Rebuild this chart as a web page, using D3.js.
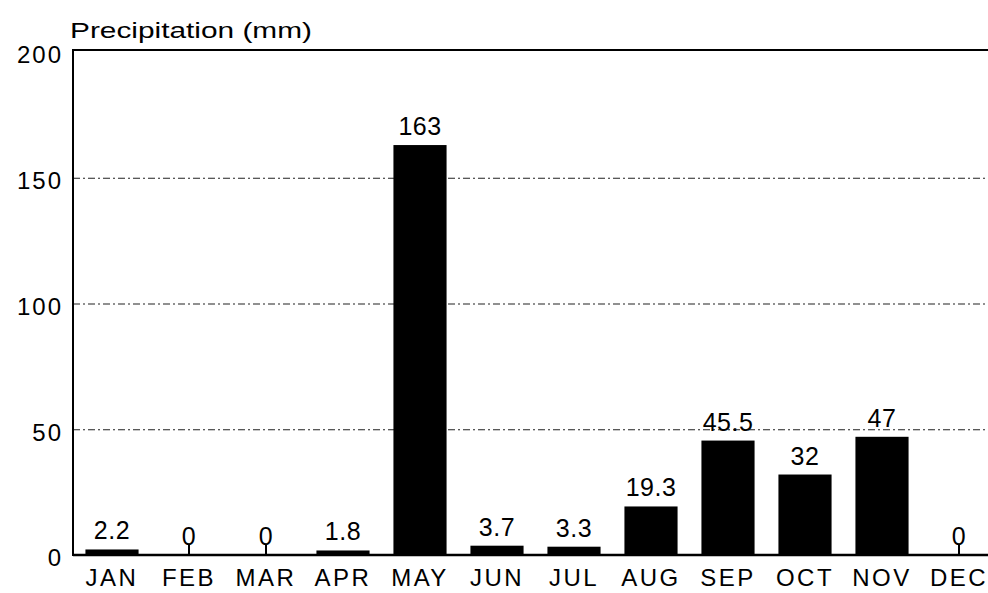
<!DOCTYPE html>
<html>
<head>
<meta charset="utf-8">
<script src="https://cdn.jsdelivr.net/npm/d3@7"></script>
<style>
  html, body { margin: 0; padding: 0; background: #fff; }
  svg { display: block; }
  text { font-family: "Liberation Sans", Arial, sans-serif; fill: #000; }
</style>
</head>
<body>
<svg id="chart" width="988" height="593"></svg>
<script>
const months = ["JAN","FEB","MAR","APR","MAY","JUN","JUL","AUG","SEP","OCT","NOV","DEC"];
const precipitation = [2.2, 0, 0, 1.8, 163, 3.7, 3.3, 19.3, 45.5, 32, 47, 0];
const valueLabels = ["2.2","0","0","1.8","163","3.7","3.3","19.3","45.5","32","47","0"];
const yTicks = [0, 50, 100, 150, 200];
const yTitle = "Precipitation (mm)";

(function () {
const svg = d3.select("#chart");
const mLeft = 73, mRight = 988, mTop = 50, mBottom = 555;

const x = d3.scaleBand().domain(months).range([73.5, 997.5]).paddingInner(0.31).paddingOuter(0.155);
const y = d3.scaleLinear().domain([0, 200]).range([mBottom, 52]);

// y labels
const yAxis = d3.axisLeft(y).tickValues(yTicks).tickSize(0).tickPadding(10).tickFormat(d3.format("d"));
const gy = svg.append("g").attr("transform", `translate(${mLeft},0)`).call(yAxis);
gy.select(".domain").remove();
gy.selectAll("text").attr("font-size", 24).attr("dy", "0.45em").attr("letter-spacing", "2px")
  .style("font-family", "'Liberation Sans', Arial, sans-serif");

// gridlines
const grid = d3.axisLeft(y).tickValues([50, 100, 150]).tickSize(-(mRight - mLeft)).tickFormat("");
const gg = svg.append("g").attr("transform", `translate(${mLeft},0)`).call(grid);
gg.select(".domain").remove();
gg.selectAll("line").attr("stroke", "#222").attr("stroke-width", 1.2).attr("stroke-dasharray", "7,3,2,3");

// top frame line
svg.append("line").attr("x1", mLeft).attr("x2", mRight).attr("y1", mTop).attr("y2", mTop)
  .attr("stroke", "#000").attr("stroke-width", 2);
// left axis line
svg.append("line").attr("x1", mLeft).attr("x2", mLeft).attr("y1", mTop - 1).attr("y2", mBottom + 1)
  .attr("stroke", "#000").attr("stroke-width", 2);

// bars
svg.append("g").selectAll("rect").data(months).join("rect")
  .attr("x", d => x(d))
  .attr("width", x.bandwidth())
  .attr("y", (d, i) => y(precipitation[i]))
  .attr("height", (d, i) => y(0) - y(precipitation[i]))
  .attr("fill", "#000");

// zero stems
svg.append("g").selectAll("line").data(months.filter((d, i) => precipitation[i] === 0)).join("line")
  .attr("x1", d => x(d) + x.bandwidth() / 2)
  .attr("x2", d => x(d) + x.bandwidth() / 2)
  .attr("y1", y(0) - 10).attr("y2", y(0))
  .attr("stroke", "#000").attr("stroke-width", 2);

// value labels
svg.append("g").selectAll("text").data(months).join("text")
  .attr("x", d => x(d) + x.bandwidth() / 2)
  .attr("y", (d, i) => y(precipitation[i]) - 10)
  .attr("text-anchor", "middle")
  .attr("font-size", 25)
  .attr("letter-spacing", "0.5px")
  .text((d, i) => valueLabels[i]);

// month labels
const xAxis = d3.axisBottom(x).tickSize(0).tickPadding(14);
const gx = svg.append("g").attr("transform", `translate(0,${mBottom})`).call(xAxis);
gx.select(".domain").remove();
gx.selectAll("text").attr("font-size", 24).attr("letter-spacing", "2.5px")
  .style("font-family", "'Liberation Sans', Arial, sans-serif");
// baseline
svg.append("line").attr("x1", mLeft).attr("x2", mRight).attr("y1", mBottom).attr("y2", mBottom)
  .attr("stroke", "#000").attr("stroke-width", 2.5);

// title
svg.append("text").attr("x", 70).attr("y", 38).attr("font-size", 22)
  .attr("textLength", 242).attr("lengthAdjust", "spacingAndGlyphs")
  .text(yTitle);
})();
</script>
</body>
</html>
